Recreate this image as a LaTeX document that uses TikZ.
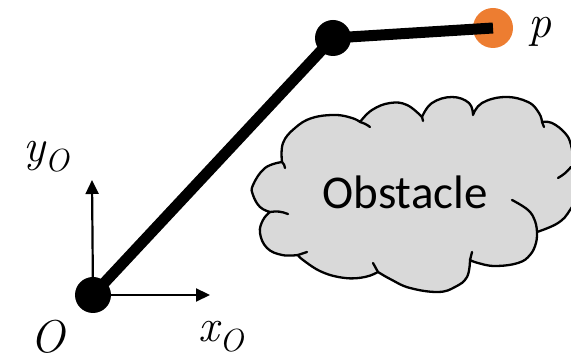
\documentclass[tikz,border=0pt]{standalone}
\usepackage{fontspec}
\newfontfamily\calibri{Carlito}
\usetikzlibrary{arrows.meta}

\definecolor{tiporange}{HTML}{ED7D31}
\definecolor{cloudgray}{HTML}{D9D9D9}

\newcommand{\subO}{\raisebox{-10pt}{\fontsize{32}{38}\selectfont\itshape O}}

\begin{document}
\begin{tikzpicture}[x=1pt, y=1pt,
    >={Triangle[length=14pt, width=13pt]},
    axis/.style={->, line width=2.2pt},
    link/.style={line width=11pt},
    puff/.style={line width=2.3pt, line join=round, line cap=round},
    lbl/.style={font=\fontsize{46}{55}\selectfont\itshape, inner sep=0pt}]

    % Canvas
    \useasboundingbox (0,0) rectangle (571,361);

    % Parameters
    \def\jointR{18}
    \def\tipR{20}

    % Key points
    \coordinate (O)  at (93, 66);
    \coordinate (J)  at (333, 323);
    \coordinate (P)  at (493, 333);
    \coordinate (xO) at (210, 66);
    \coordinate (yO) at (92, 181);

    % Obstacle cloud outline
    \filldraw[puff, fill=cloudgray]
        plot[smooth, tension=0.7] coordinates {(270,149) (260,154) (253,166) (253,176) (265,193) (282,199)}
     -- plot[smooth, tension=0.7] coordinates {(282,199) (283,218) (295,233) (312,243) (335,246) (352,243) (360,239)}
     -- plot[smooth, tension=0.7] coordinates {(360,239) (372,251) (390,258) (407,256) (422,244)}
     -- plot[smooth, tension=0.7] coordinates {(422,244) (432,258) (452,264) (469,258) (473,246)}
     -- plot[smooth, tension=0.7] coordinates {(473,246) (482,258) (505,264) (528,259) (539,248) (542,239)}
     -- plot[smooth, tension=0.7] coordinates {(542,239) (552,238) (565,228) (571,216) (574,196)}
     -- plot[smooth, tension=0.7] coordinates {(574,196) (580,172) (570,151) (558,138) (537,129)}
     -- plot[smooth, tension=0.7] coordinates {(537,129) (536,118) (530,106) (518,98) (495,95) (478,98) (470,101)}
     -- plot[smooth, tension=0.7] coordinates {(470,101) (467,84) (455,74) (438,69) (410,73) (392,81) (378,89)}
     -- plot[smooth, tension=0.7] coordinates {(378,89) (365,84) (345,83) (322,89) (303,101) (298,106)}
     -- plot[smooth, tension=0.7] coordinates {(298,106) (282,106) (267,113) (260,128) (263,141) (270,149)}
     -- cycle;

    % Inner puff ends
    \draw[puff] (282,199) to[bend left=20] (285,193);
    \draw[puff] (360,239) to[bend left=10] (370,234);
    \draw[puff] (422,244) -- (423,240);
    \draw[puff] (542,239) -- (544,234);
    \draw[puff] (571,194) to[bend left=10] (558,183);
    \draw[puff] plot[smooth, tension=0.7] coordinates {(537,129) (535,140) (528,151) (512,161)};
    \draw[puff] (470,101) -- (472,109);
    \draw[puff] (378,89) -- (373,98);
    \draw[puff] (298,106) -- (307,109);
    \draw[puff] (270,149) to[bend left=15] (288,147);

    \node[font=\calibri\fontsize{47}{56}\selectfont] (obstacle) at (405,169) {Obstacle};

    % Frame axes
    \draw[axis] (O) -- (xO);
    \draw[axis] (O) -- (yO);

    % End effector
    \fill[tiporange] (P) circle (\tipR);

    % Links
    \draw[link] (O) -- (J) -- (P);

    % Joints
    \fill (O) circle (\jointR);
    \fill (J) circle (\jointR);

    % Labels
    \node[lbl] (labO) at (48, 24)   {O};
    \node[lbl] (labx) at (221, 24)  {x\subO};
    \node[lbl] (laby) at (46, 204)  {y\subO};
    \node[lbl] (labp) at (540, 329) {p};

\end{tikzpicture}
\end{document}
